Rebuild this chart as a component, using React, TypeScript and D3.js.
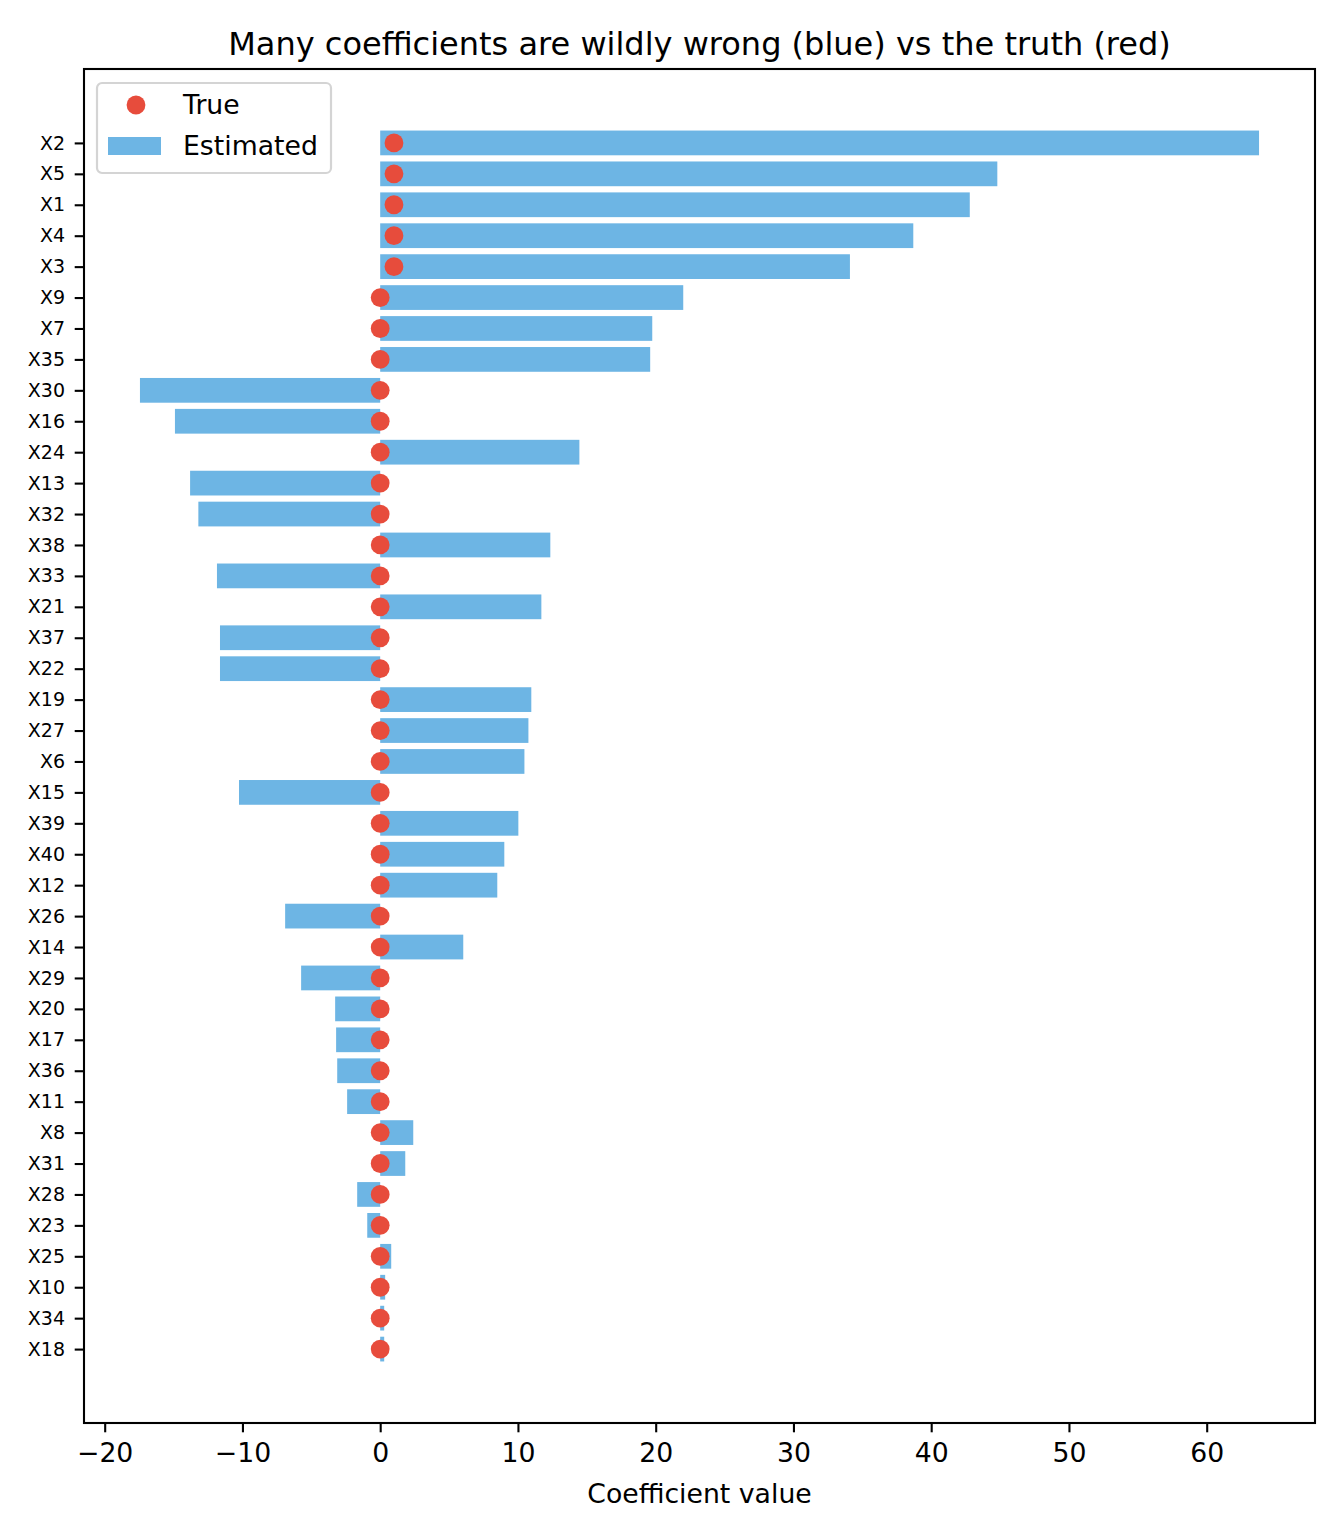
import { useEffect, useRef } from 'react';
import * as d3 from 'd3';

// features ordered as in the chart, top to bottom
const features = [
    'X2', 'X5', 'X1', 'X4', 'X3', 'X9', 'X7', 'X35', 'X30', 'X16',
    'X24', 'X13', 'X32', 'X38', 'X33', 'X21', 'X37', 'X22', 'X19', 'X27',
    'X6', 'X15', 'X39', 'X40', 'X12', 'X26', 'X14', 'X29', 'X20', 'X17',
    'X36', 'X11', 'X8', 'X31', 'X28', 'X23', 'X25', 'X10', 'X34', 'X18',
];

const estimated = [
    63.8, 44.8, 42.8, 38.7, 34.1, 22.0, 19.75, 19.6, -17.44, -14.9,
    14.46, -13.8, -13.2, 12.35, -11.85, 11.7, -11.63, -11.63, 10.97, 10.76,
    10.47, -10.25, 10.03, 9.01, 8.5, -6.9, 6.03, -5.74, -3.27, -3.2,
    -3.12, -2.4, 2.4, 1.82, -1.67, -0.94, 0.8, 0.36, 0.29, 0.29,
];

const truth = [
    1, 1, 1, 1, 1, 0, 0, 0, 0, 0,
    0, 0, 0, 0, 0, 0, 0, 0, 0, 0,
    0, 0, 0, 0, 0, 0, 0, 0, 0, 0,
    0, 0, 0, 0, 0, 0, 0, 0, 0, 0,
];

const xTicks = [-20, -10, 0, 10, 20, 30, 40, 50, 60];

const width = 1344;
const height = 1536;
const margin = { top: 69, right: 29, bottom: 113, left: 84 };
const innerW = width - margin.left - margin.right;
const innerH = height - margin.top - margin.bottom;

const barColor = '#6db5e4';
const dotColor = '#e74c3c';
const font = '"DejaVu Sans", sans-serif';

const App = () => {
    const svgRef = useRef<SVGSVGElement>(null);

    useEffect(() => {
        document.body.style.margin = '0';
        const svg = d3.select(svgRef.current);
        svg.selectAll('*').remove();
        svg.attr('width', width).attr('height', height).style('background', '#fff');

        // matplotlib-like 5% margins around the data
        const allX = [...estimated, ...truth, 0];
        const lo = d3.min(allX) ?? 0;
        const hi = d3.max(allX) ?? 0;
        const pad = (hi - lo) * 0.05;
        const x = d3.scaleLinear().domain([lo - pad, hi + pad]).range([0, innerW]);

        const n = features.length;
        const yPad = (n - 1 + 0.8) * 0.05;
        const y = d3
            .scaleLinear()
            .domain([-0.4 - yPad, n - 1 + 0.4 + yPad])
            .range([0, innerH]);
        const barH = y(0.8) - y(0);

        const g = svg.append('g').attr('transform', `translate(${margin.left},${margin.top})`);

        // bars
        g.selectAll('rect.bar')
            .data(estimated)
            .join('rect')
            .attr('class', 'bar')
            .attr('x', d => x(Math.min(0, d)))
            .attr('y', (_, i) => y(i) - barH / 2)
            .attr('width', d => Math.abs(x(d) - x(0)))
            .attr('height', barH)
            .attr('fill', barColor);

        // true values
        g.selectAll('circle.dot')
            .data(truth)
            .join('circle')
            .attr('class', 'dot')
            .attr('cx', d => x(d))
            .attr('cy', (_, i) => y(i))
            .attr('r', 9.4)
            .attr('fill', dotColor);

        // x axis
        const xAxis = g
            .append('g')
            .attr('transform', `translate(0,${innerH})`)
            .call(
                d3.axisBottom(x).tickValues(xTicks).tickSize(9.3).tickPadding(10.5).tickSizeOuter(0)
            );
        xAxis.select('.domain').remove();
        xAxis.selectAll('line').attr('stroke-width', 2.1);
        xAxis.selectAll('text').attr('font-size', 26.7).attr('font-family', font).attr('fill', '#000');

        // y axis
        const yAxis = g
            .append('g')
            .call(
                d3
                    .axisLeft(y)
                    .tickValues(d3.range(n))
                    .tickFormat(i => features[i as number])
                    .tickSize(9.3)
                    .tickPadding(9.7)
                    .tickSizeOuter(0)
            );
        yAxis.select('.domain').remove();
        yAxis.selectAll('line').attr('stroke-width', 2.1);
        yAxis.selectAll('text').attr('font-size', 19).attr('font-family', font).attr('fill', '#000');

        // frame
        g.append('rect')
            .attr('width', innerW)
            .attr('height', innerH)
            .attr('fill', 'none')
            .attr('stroke', '#000')
            .attr('stroke-width', 2.1);

        // title + label
        svg.append('text')
            .attr('x', margin.left + innerW / 2)
            .attr('y', 55)
            .attr('text-anchor', 'middle')
            .attr('font-family', font)
            .attr('font-size', 32)
            .text('Many coefficients are wildly wrong (blue) vs the truth (red)');

        svg.append('text')
            .attr('x', margin.left + innerW / 2)
            .attr('y', 1503)
            .attr('text-anchor', 'middle')
            .attr('font-family', font)
            .attr('font-size', 26.7)
            .text('Coefficient value');

        // legend
        const legend = svg.append('g').attr('transform', 'translate(97,83)');
        legend
            .append('rect')
            .attr('width', 234)
            .attr('height', 90)
            .attr('rx', 5)
            .attr('fill', 'rgba(255,255,255,0.8)')
            .attr('stroke', '#d4d4d4')
            .attr('stroke-width', 2.2);
        legend.append('circle').attr('cx', 39).attr('cy', 22).attr('r', 9.4).attr('fill', dotColor);
        legend.append('rect').attr('x', 11).attr('y', 54).attr('width', 53).attr('height', 18).attr('fill', barColor);
        legend
            .selectAll('text')
            .data(['True', 'Estimated'])
            .join('text')
            .attr('x', 86)
            .attr('y', (_, i) => 31 + i * 41)
            .attr('font-family', font)
            .attr('font-size', 26.7)
            .text(d => d);
    }, []);

    return <svg ref={svgRef}></svg>;
};

export default App;
